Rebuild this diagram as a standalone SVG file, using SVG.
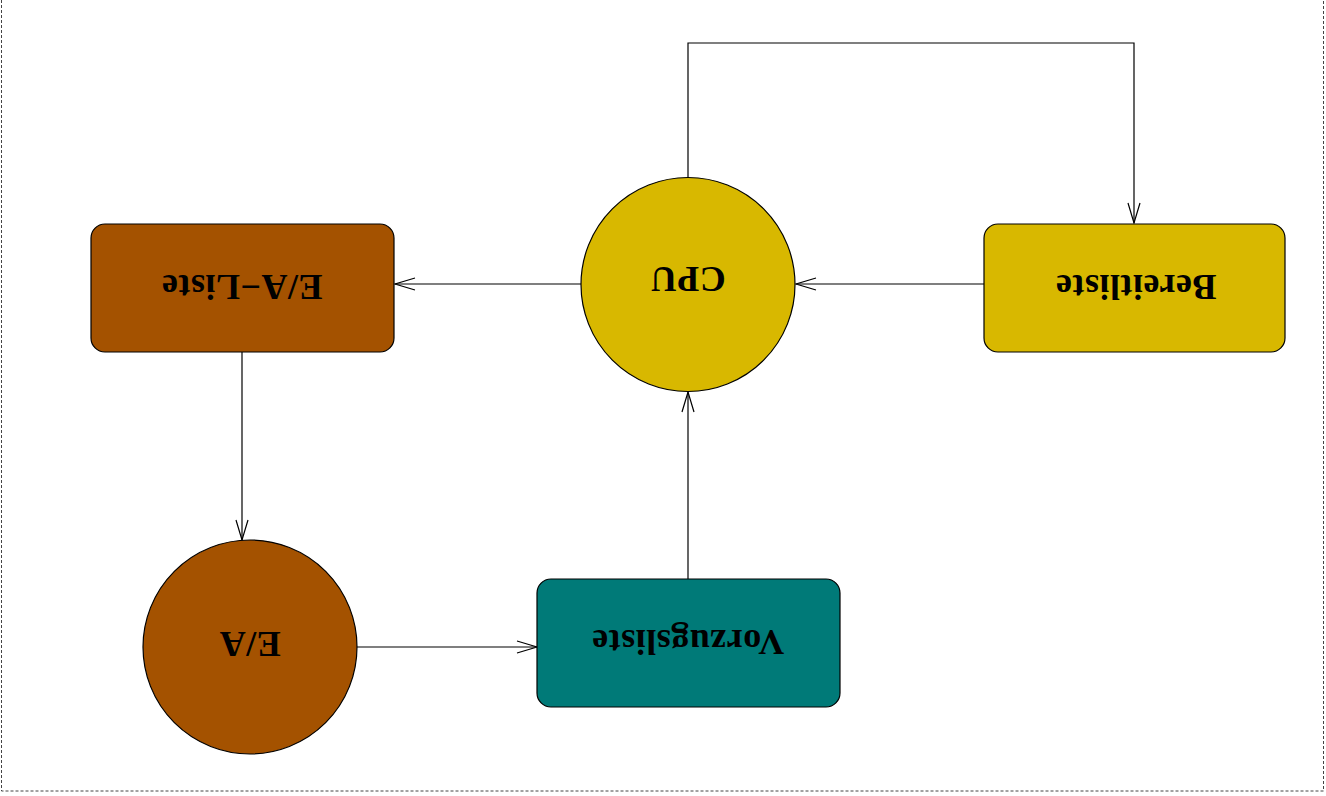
<svg xmlns="http://www.w3.org/2000/svg" width="1326" height="796" viewBox="0 0 1326 796">
  <style>
    .node { stroke: #000; stroke-width: 1.2; }
    .gold { fill: #D8B800; }
    .brown { fill: #A45200; }
    .teal { fill: #007A78; }
    .lbl { font-family: "Liberation Serif", "Times New Roman", serif; font-weight: bold; font-size: 36px; letter-spacing: 0.5px; fill: #000; text-anchor: middle; }
    .edge { fill: none; stroke: #000; stroke-width: 1.2; marker-end: url(#arr); }
  </style>
  <defs>
    <marker id="arr" markerUnits="userSpaceOnUse" markerWidth="24" markerHeight="16" viewBox="-22 -8 24 16" refX="0" refY="0" orient="auto">
      <path d="M-20,-6 L0,0 L-20,6" fill="none" stroke="#000" stroke-width="1.2"/>
    </marker>
  </defs>
  <rect x="1.5" y="-2" width="1322" height="793" fill="#fff" stroke="#444" stroke-width="1" stroke-dasharray="3,2"/>

  <g id="connectors">
    <path class="edge" d="M984,284 L796,284"/>
    <path class="edge" d="M581,284 L395,284"/>
    <path class="edge" d="M242,352 L242,540"/>
    <path class="edge" d="M357,647 L537,647"/>
    <path class="edge" d="M688,579 L688,392"/>
    <path class="edge" d="M688,178 L688,43 L1134,43 L1134,223"/>
  </g>

  <g id="bereitliste">
    <rect class="node gold" x="984" y="224" width="301" height="128" rx="14"/>
    <text class="lbl" transform="translate(1136,275) rotate(180)">Bereitliste</text>
  </g>
  <g id="cpu">
    <circle class="node gold" cx="688" cy="284.5" r="107"/>
    <text class="lbl" transform="translate(688,267) rotate(180)">CPU</text>
  </g>
  <g id="ea-liste">
    <rect class="node brown" x="91" y="224" width="303" height="128" rx="14"/>
    <text class="lbl" transform="translate(242,275) rotate(180)">E/A−Liste</text>
  </g>
  <g id="ea">
    <circle class="node brown" cx="250" cy="647" r="107"/>
    <text class="lbl" transform="translate(250,632) rotate(180)">E/A</text>
  </g>
  <g id="vorzugsliste">
    <rect class="node teal" x="537" y="579" width="303" height="128" rx="14"/>
    <text class="lbl" transform="translate(688,630) rotate(180)">Vorzugsliste</text>
  </g>
</svg>
